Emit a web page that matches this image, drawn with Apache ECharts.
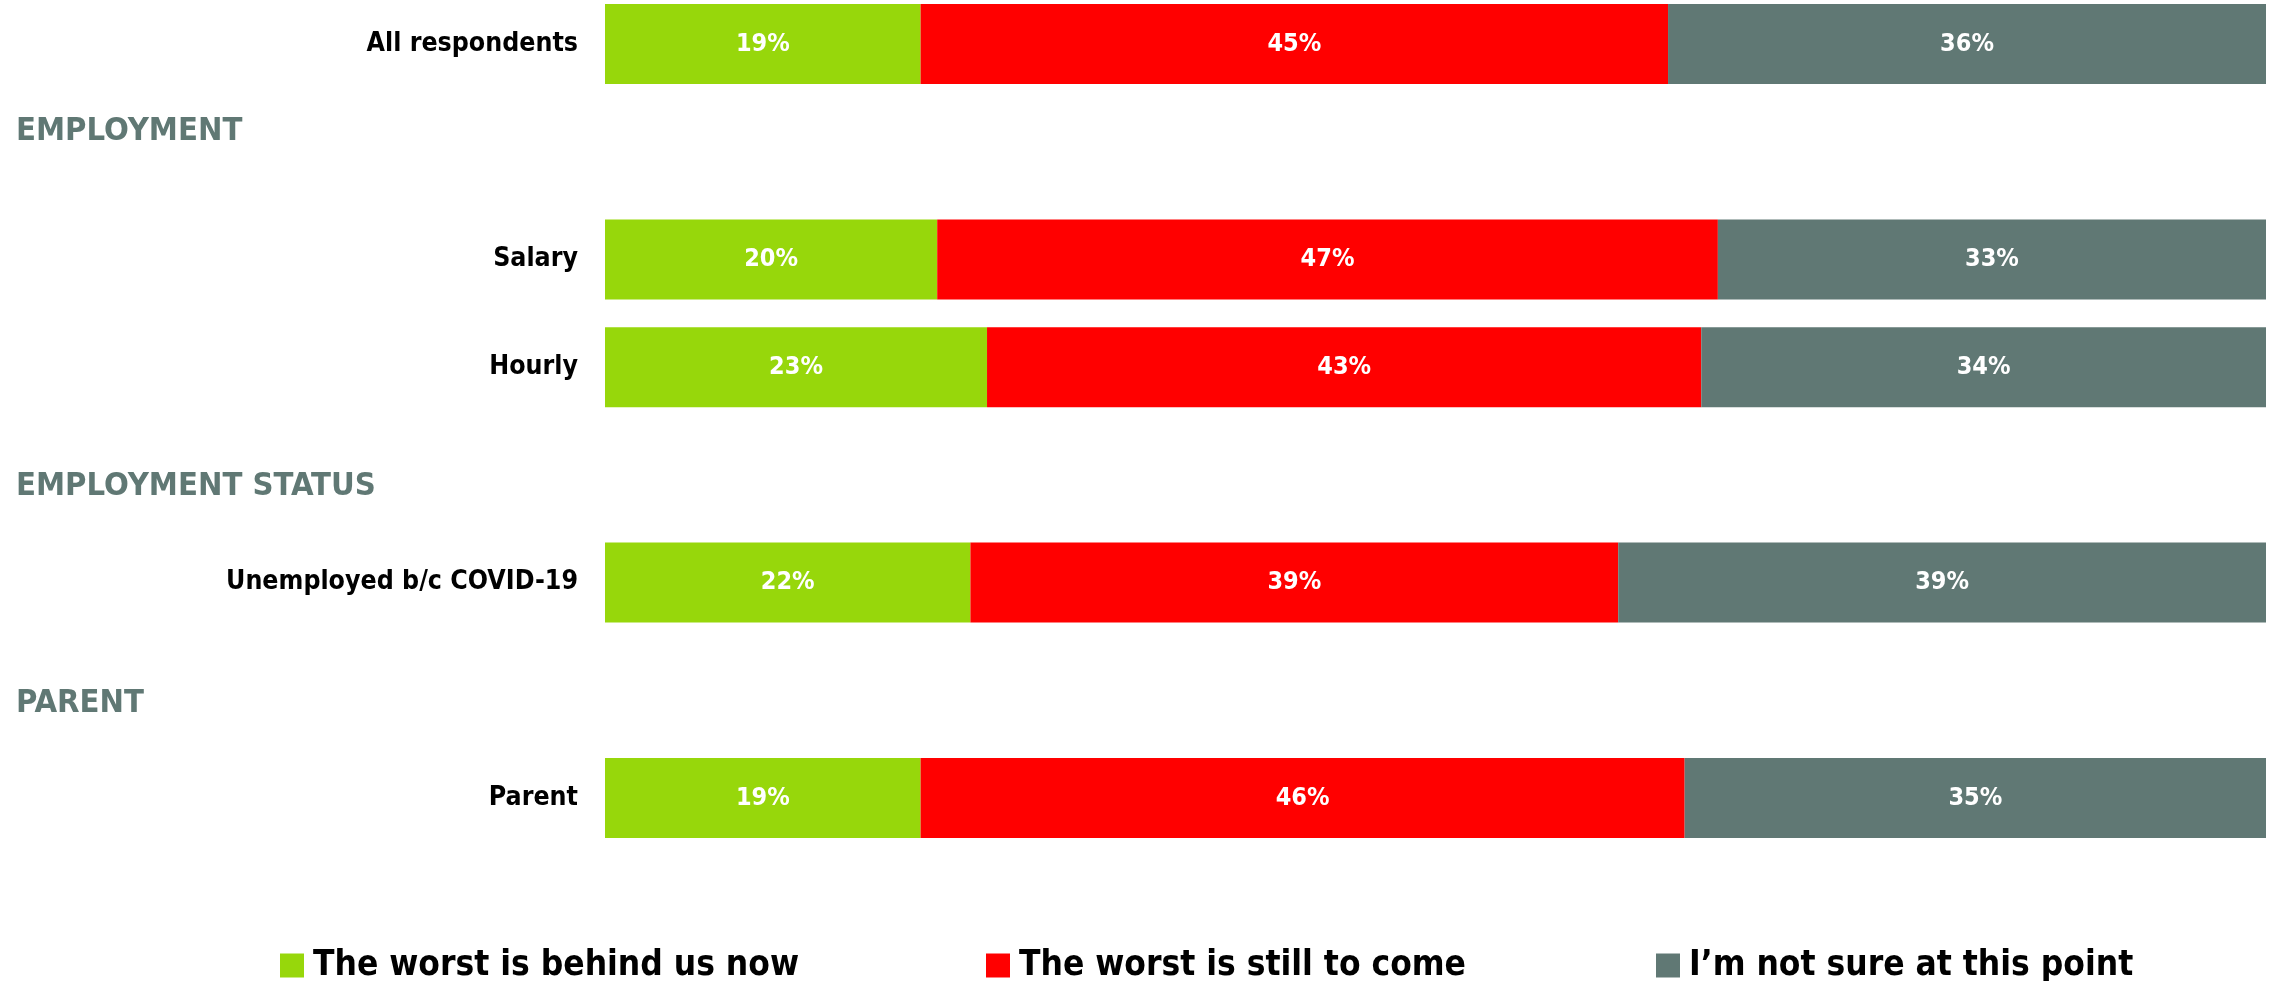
<!DOCTYPE html>
<html>
<head>
<meta charset="utf-8">
<script src="https://cdn.jsdelivr.net/npm/echarts@6/dist/echarts.min.js"></script>
<style>
  html, body { margin: 0; padding: 0; background: #ffffff; }
  #chart { width: 2270px; height: 981px; }
</style>
</head>
<body>
<div id="chart"></div>
<script>
// Row labels; empty strings are spacer rows that sit under the group headings
const categories = ['All respondents', '', 'Salary', 'Hourly', '', 'Unemployed b/c COVID-19', '', 'Parent'];

// Share of respondents per answer (percent); null on spacer rows
const behindUs = [19, null, 20, 23, null, 22, null, 19];
const stillToCome = [45, null, 47, 43, null, 39, null, 46];
const notSure = [36, null, 33, 34, null, 39, null, 35];

const seriesNames = ['The worst is behind us now', 'The worst is still to come', 'I\u2019m not sure at this point'];

// Group headings shown above their rows
const groupHeadings = ['EMPLOYMENT', 'EMPLOYMENT STATUS', 'PARENT'];

const FONT = "'Liberation Sans Narrow', 'DejaVu Sans Condensed', 'Roboto Condensed', sans-serif";
const GREEN = '#97d70b';
const RED = '#ff0000';
const GREY = '#607874';

const chart = echarts.init(document.getElementById('chart'), null, { renderer: 'canvas' });

function barSeries(name, values, color) {
  return {
    name: name,
    type: 'bar',
    stack: 'total',
    data: values,
    barWidth: 80,
    itemStyle: { color: color },
    label: {
      show: true,
      position: 'inside',
      formatter: p => (p.value == null ? '' : p.value + '%'),
      color: '#ffffff',
      fontFamily: FONT,
      fontWeight: 'bold',
      fontSize: 25
    },
    emphasis: { disabled: true }
  };
}

function legendFor(name, left) {
  return {
    data: [name],
    left: left,
    top: 943,
    itemWidth: 24,
    itemHeight: 24,
    itemGap: 0,
    icon: 'rect',
    textStyle: {
      fontFamily: FONT,
      fontWeight: 'bold',
      fontSize: 35,
      color: '#000000',
      padding: [0, 0, 0, 4]
    },
    selectedMode: false
  };
}

// Vertical centres of the headings
const headingY = [132, 487, 704];

chart.setOption({
  animation: false,
  backgroundColor: '#ffffff',
  grid: { left: 605, right: 4, top: 44, height: 754, containLabel: false },
  xAxis: {
    type: 'value',
    min: 0,
    max: 100,
    show: false
  },
  yAxis: {
    type: 'category',
    data: categories,
    inverse: true,
    boundaryGap: false,
    axisLine: { show: false },
    axisTick: { show: false },
    splitLine: { show: false },
    axisLabel: {
      margin: 27,
      color: '#000000',
      fontFamily: FONT,
      fontWeight: 'bold',
      fontSize: 26.5
    }
  },
  legend: [
    legendFor(seriesNames[0], 275),
    legendFor(seriesNames[1], 981),
    legendFor(seriesNames[2], 1651)
  ],
  graphic: groupHeadings.map((t, i) => ({
    type: 'text',
    left: 16,
    top: headingY[i] - 17,
    style: {
      text: t,
      fill: GREY,
      font: 'bold 32.5px ' + FONT
    }
  })),
  series: [
    barSeries(seriesNames[0], behindUs, GREEN),
    barSeries(seriesNames[1], stillToCome, RED),
    barSeries(seriesNames[2], notSure, GREY)
  ]
});
</script>
</body>
</html>
